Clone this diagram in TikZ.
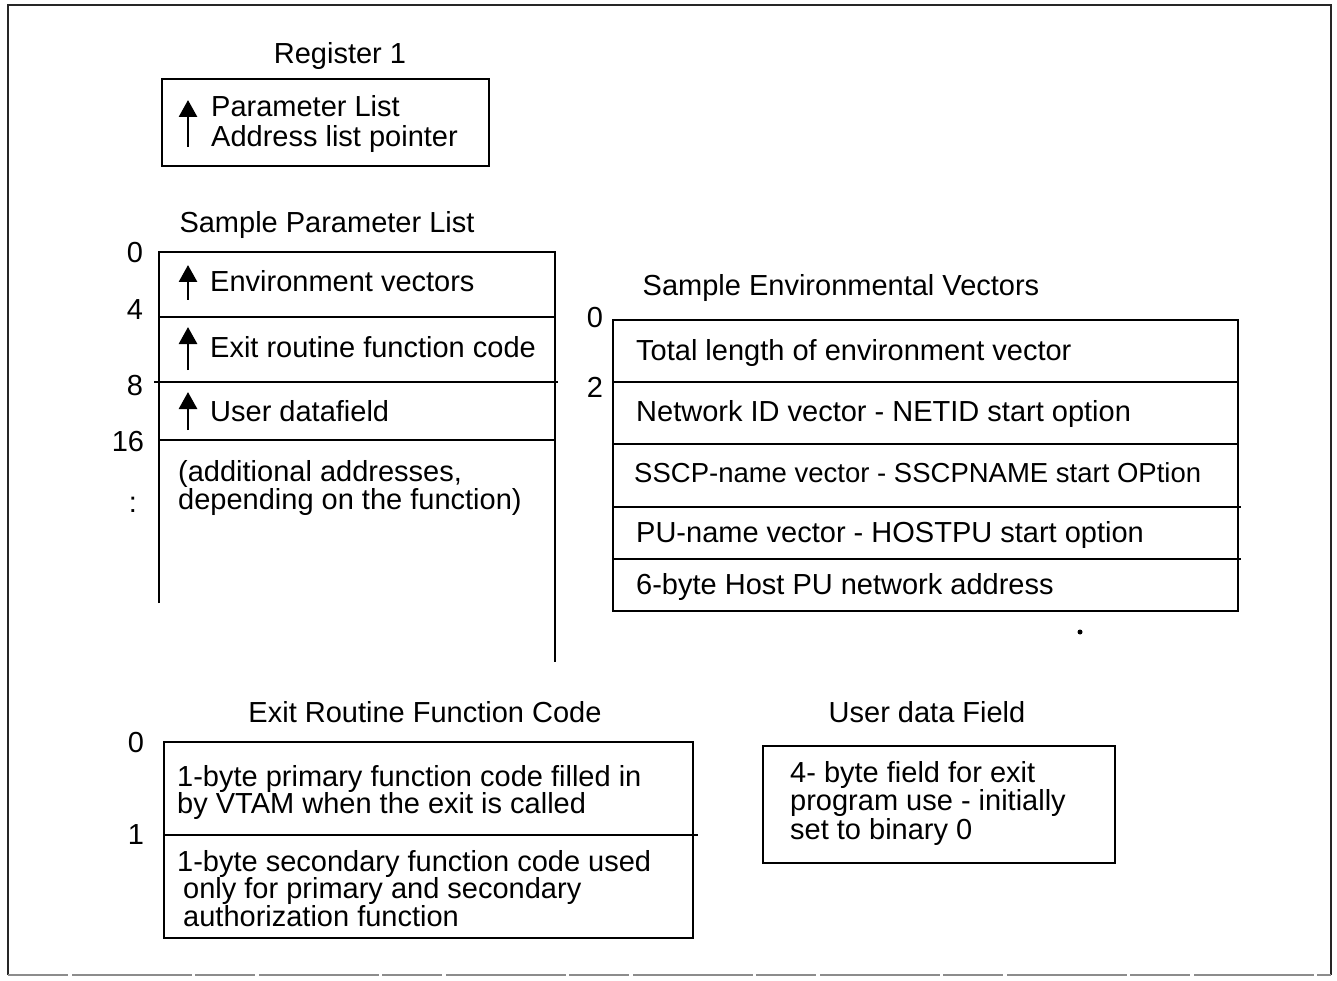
\documentclass[tikz,border=0pt]{standalone}
\usepackage{fontspec}
\setmainfont{Liberation Sans}
\usetikzlibrary{arrows.meta}
\begin{document}
\begin{tikzpicture}[x=1pt,y=-1pt,
  txt/.style={inner sep=0pt, anchor=base west, font=\fontsize{29}{28}\selectfont},
  ttl/.style={inner sep=0pt, anchor=base, font=\fontsize{29}{28}\selectfont},
  num/.style={inner sep=0pt, anchor=center, font=\fontsize{29}{28}\selectfont},
  mtxt/.style={inner sep=0pt, anchor=north west, align=left},
  boxline/.style={line width=2.2pt},
  frameline/.style={line width=1.3pt, black!85},
  ptr/.style={line width=2.8pt, -{Triangle[width=18pt,length=17pt]}},
]
\useasboundingbox (0,0) rectangle (1337,981);
% outer frame
\draw[frameline] (8,975) -- (8,5) -- (1331,5) -- (1331,975);
\draw[frameline, black!45, dash pattern=on 60pt off 4pt on 120pt off 3pt] (8,975) -- (1331,975);

% Register 1
\node[ttl] (regt) at (340,64) {Register 1};
\draw[boxline] (162,79) rectangle (489,166);
\node[mtxt, font=\fontsize{29}{30}\selectfont] (regtx) at (211,95) {Parameter List\\Address list pointer};
\draw[ptr] (188,147) -- (188,100);

% Sample Parameter List
\node[ttl] (plt) at (327,233) {Sample Parameter List};
\draw[boxline] (159,603) -- (159,252) -- (555,252) -- (555,662);
\draw[boxline] (159,317) -- (555,317);
\draw[boxline] (154,382) -- (558,382);
\draw[boxline] (159,440) -- (555,440);
\node[num] (p0) at (135,253) {0};
\node[num] (p4) at (135,310) {4};
\node[num] (p8) at (135,386) {8};
\node[num] (p16) at (128,442) {16};
\node[num] (pdots) at (133,505) {:};
\node[txt] (pl1) at (210,291) {Environment vectors};
\node[txt] (pl2) at (210,357) {Exit routine function code};
\node[txt] (pl3) at (210,421) {User datafield};
\draw[ptr] (188,300) -- (188,265);
\draw[ptr] (188,370) -- (188,327);
\draw[ptr] (188,430) -- (188,392);
\node[mtxt, font=\fontsize{29}{26}\selectfont] (pl4) at (178,460) {(additional addresses,\\depending on the function)};

% Sample Environmental Vectors
\node[ttl] (evt) at (841,295) {Sample Environmental Vectors};
\draw[boxline] (613,320) rectangle (1238,611);
\draw[boxline] (613,382) -- (1238,382);
\draw[boxline] (613,444) -- (1238,444);
\draw[boxline] (613,507) -- (1241,507);
\draw[boxline] (613,559) -- (1241,559);
\node[num] (e0) at (595,318) {0};
\node[num] (e2) at (595,387) {2};
\node[txt] (ev1) at (636,360) {Total length of environment vector};
\node[txt] (ev2) at (636,421) {Network ID vector - NETID start option};
\node[txt, font=\fontsize{27.5}{28}\selectfont] (ev3) at (634,482) {SSCP-name vector - SSCPNAME start OPtion};
\node[txt] (ev4) at (636,542) {PU-name vector - HOSTPU start option};
\node[txt] (ev5) at (636,594) {6-byte Host PU network address};
\fill (1080,632) circle (2.5pt);

% Exit Routine Function Code
\node[ttl] (ert) at (425,722) {Exit Routine Function Code};
\draw[boxline] (164,742) rectangle (693,938);
\draw[boxline] (164,835) -- (698,835);
\node[num] (x0) at (136,743) {0};
\node[num] (x1) at (136,835) {1};
\node[mtxt, font=\fontsize{29}{27.5}\selectfont] (er1) at (177,765) {1-byte primary function code filled in\\by VTAM when the exit is called};
\node[mtxt, font=\fontsize{29}{27.5}\selectfont] (er2) at (177,850) {1-byte secondary function code used\\\hspace*{6pt}only for primary and secondary\\\hspace*{6pt}authorization function};

% User data Field
\node[ttl] (udt) at (927,722) {User data Field};
\draw[boxline] (763,746) rectangle (1115,863);
\node[mtxt, font=\fontsize{29}{28.5}\selectfont] (ud1) at (790,761) {4- byte field for exit\\program use - initially\\set to binary 0};
\end{tikzpicture}
\end{document}
